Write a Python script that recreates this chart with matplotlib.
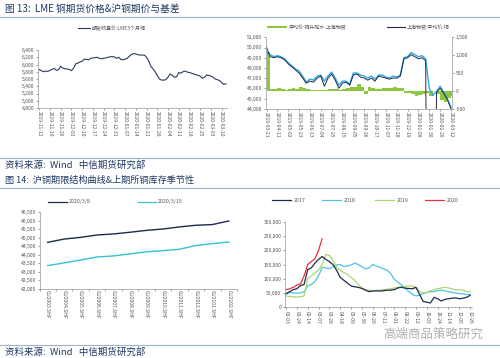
import numpy as np
import pandas as pd
import matplotlib
matplotlib.use("Agg")
import matplotlib.pyplot as plt
from matplotlib.ticker import FuncFormatter
from matplotlib.lines import Line2D

plt.rcParams['font.family'] = ['Noto Sans CJK SC', 'DejaVu Sans']
plt.rcParams['axes.unicode_minus'] = False

# ---------------- data ----------------
# Fig 13 left: LME 3M copper (USD/t), business days from 2019-11-12
lme_start = '2019-11-12'
lme_values = [5860, 5830, 5800, 5820, 5810,
              5840, 5870, 5890, 5840, 5860,
              5950, 5900, 5880, 5880, 5860,
              5830, 5900, 6020, 6040, 6070,
              6090, 6150, 6140, 6130, 6170,
              6180, 6190, 6200, 6170, 6160,
              6170, 6180, 6200, 6210, 6220,
              6210, 6170, 6200, 6140, 6130,
              6150, 6170, 6230, 6280, 6300,
              6290, 6270, 6260, 6260, 6260,
              6200, 6100, 5950, 5880, 5800,
              5700, 5600, 5570, 5570, 5580,
              5650, 5740, 5700, 5650, 5660,
              5780, 5760, 5800, 5820, 5790,
              5780, 5760, 5740, 5720, 5700,
              5680, 5620, 5650, 5710, 5700,
              5680, 5650, 5600, 5580, 5560,
              5500, 5450, 5470]

# Fig 13 right: weekly from 2019-03-21
sh_start = '2019-03-21'
sh_spot = [50000, 49100, 49000, 49100, 49000, 48800, 48400, 48100, 47800, 47500,
           47000, 46500, 46700, 46600, 47000, 47200, 46200, 47000, 47400, 46800,
           46000, 46500, 46600, 46300, 47300, 47400, 47100, 47000, 46800, 47000,
           46700, 47200, 47100, 47000, 46900, 47000, 47000, 47200, 48900, 49000,
           49300, 49100, 48900, 49000, 48700, 0, 0, 45600, 46000, 45500,
           44900, 44000]
sh_futures = [49500, 49300, 49100, 49200, 49100, 48900, 48500, 48200, 47900, 47700,
              47200, 46600, 46900, 46800, 47200, 47300, 46700, 47200, 47600, 47000,
              46300, 46700, 46700, 46400, 47500, 47500, 47300, 47200, 47000, 47200,
              46900, 47300, 47300, 47100, 47000, 47200, 47100, 47300, 49000, 49100,
              49500, 49300, 49100, 49200, 48900, 46000, 45300, 45700, 46200, 45600,
              45000, 44100]
sh_basis = [1100, 60, 50, 80, 60, 30, 40, 80, 60, 100,
            70, 60, 30, 20, 20, 30, 20, 40, 50, 40,
            30, 60, 80, 100, 120, 200, 120, -80, 100, 90,
            60, 40, 70, 80, 90, 100, 80, 70, -50, -60,
            -100, -150, -120, -80, -50, -150, 0, -100, -250, -300,
            -200, -150]

# Fig 14 left: term structure
contracts = ['CU2003.SHF', 'CU2004.SHF', 'CU2005.SHF', 'CU2006.SHF', 'CU2007.SHF',
             'CU2008.SHF', 'CU2009.SHF', 'CU2010.SHF', 'CU2011.SHF', 'CU2012.SHF',
             'CU2101.SHF', 'CU2102.SHF']
curve_0308 = [44740, 44930, 45030, 45170, 45230, 45330, 45440, 45520, 45640, 45740, 45780, 45990]
curve_0315 = [43375, 43530, 43700, 43880, 43940, 44060, 44180, 44250, 44330, 44550, 44660, 44760]

# Fig 14 right: SHFE copper inventory, weekly from 01-03
inv_2017 = [48000, 55000, 62000, 65000, 76000, 80000, 132000, 138000, 155000, 168000,
            178000, 168000, 160000, 150000, 130000, 105000, 95000, 85000, 75000, 72000,
            70000, 66000, 60000, 55000, 57000, 58000, 57000, 58000, 60000, 60000,
            62000, 68000, 70000, 67000, 66000, 65000, 70000, 45000, 20000, 18000,
            15000, 35000, 30000, 22000, 28000, 30000, 32000, 33000, 30000, 32000,
            35000, 42000]
inv_2018 = [45000, 52000, 50000, 50000, 50000, 55000, 75000, 80000, 90000, 110000,
            140000, 138000, 135000, 142000, 148000, 150000, 143000, 145000, 148000, 155000,
            150000, 142000, 135000, 138000, 150000, 145000, 140000, 135000, 130000, 118000,
            98000, 88000, 78000, 68000, 55000, 45000, 40000, 42000, 48000, 52000,
            55000, 55000, 58000, 60000, 58000, 55000, 52000, 50000, 48000, 47000,
            45000, 45000]
inv_2019 = [40000, 38000, 37000, 36000, 37000, 40000, 100000, 110000, 120000, 130000,
            150000, 185000, 182000, 165000, 140000, 130000, 122000, 115000, 105000, 95000,
            80000, 68000, 62000, 60000, 58000, 58000, 60000, 62000, 63000, 65000,
            68000, 70000, 72000, 73000, 75000, 74000, 70000, 55000, 50000, 52000,
            58000, 62000, 65000, 68000, 70000, 68000, 65000, 60000, 62000, 60000,
            55000, 55000]
inv_2020 = [62000, 65000, 70000, 78000, 82000, 110000, 150000, 160000, 170000, 200000, 240000]

# ---------------- figure ----------------
W, H = 500, 358
fig = plt.figure(figsize=(W / 100, H / 100), dpi=100)
fig.patch.set_facecolor('white')

def fx(px):
    return px / W

def fy(py):
    return 1 - py / H

def box(l, t, r, b):
    return [fx(l), fy(b), fx(r) - fx(l), fy(t) - fy(b)]

TICK = dict(labelsize=3.6, colors='#555555', length=1.5, width=0.4, pad=1)
SPINE = '#999999'
NAVY = '#1f2b4d'
CYAN = '#33c3d3'
BLUE = '#2fa9df'
GREEN = '#8dc63f'
LGREEN = '#a9d86e'
RED = '#e8303a'
HEAD = '#1f3864'
comma = FuncFormatter(lambda v, p: f'{v:,.0f}')

def style(ax):
    for s in ['top', 'right']:
        ax.spines[s].set_visible(False)
    for s in ['left', 'bottom']:
        ax.spines[s].set_color(SPINE)
        ax.spines[s].set_linewidth(0.5)
    ax.tick_params(**TICK)
    ax.yaxis.set_major_formatter(comma)

def hline(py, x0=0, x1=W, color='#9fb3c8', lw=0.8):
    fig.add_artist(Line2D([fx(x0), fx(x1)], [fy(py), fy(py)], color=color, lw=lw))

# headers and separators
fig.text(fx(5), fy(9), '图 13:  LME 铜期货价格&沪铜期价与基差', fontsize=7, color=HEAD, va='center')
hline(17)
hline(158)
fig.text(fx(5), fy(165), '资料来源:  Wind   中信期货研究部', fontsize=6.8, color=HEAD, va='center')
fig.text(fx(5), fy(180.5), '图 14:  沪铜期限结构曲线&上期所铜库存季节性', fontsize=6.6, color=HEAD, va='center')
hline(188)
hline(345)
fig.text(fx(5), fy(351.5), '资料来源:  Wind   中信期货研究部', fontsize=6.8, color=HEAD, va='center')
fig.text(fx(383), fy(334), '高端商品策略研究', fontsize=9, color='#b0b0b0', va='center')

# ---- Fig 13 left ----
ax1 = fig.add_axes(box(38, 50, 227, 108))
style(ax1)
lme_dates = pd.bdate_range(lme_start, periods=len(lme_values))
x1 = np.arange(len(lme_values))
ax1.plot(x1, lme_values, color='#2b3a5c', lw=0.8)
ax1.set_ylim(4800, 6400)
ax1.set_yticks(np.arange(4800, 6401, 200))
ax1.set_xlim(-0.6, 87.5)
tk = x1[::5]
ax1.set_xticks(tk)
ax1.set_xticklabels([lme_dates[i].strftime('%Y-%m-%d') for i in tk], rotation=270)
fig.add_artist(Line2D([fx(78), fx(90)], [fy(28), fy(28)], color='#2b3a5c', lw=0.8))
fig.text(fx(92), fy(28), '期货收盘价:LME3个月铜', fontsize=3.6, color='#555555', va='center')

# ---- Fig 13 right ----
ax2 = fig.add_axes(box(266, 37.3, 452, 108.7))
style(ax2)
sh_dates = pd.date_range(sh_start, periods=len(sh_spot), freq='7D')
ax2b = ax2.twinx()
for s in ['top', 'left', 'bottom']:
    ax2b.spines[s].set_visible(False)
ax2b.spines['right'].set_color(SPINE)
ax2b.spines['right'].set_linewidth(0.5)
ax2b.tick_params(**TICK)
ax2b.bar(sh_dates, sh_basis, width=7, align='edge', color=GREEN, lw=0)
ax2b.set_ylim(-500, 1500)
ax2b.set_yticks([-500, 0, 500, 1000, 1500])
ax2b.yaxis.set_major_formatter(comma)
ax2.set_zorder(ax2b.get_zorder() + 1)
ax2.patch.set_visible(False)
ax2.plot(sh_dates, sh_futures, color=BLUE, lw=1.0)
ax2.plot(sh_dates, sh_spot, color=NAVY, lw=0.7)
ax2.set_ylim(44000, 51000)
ax2.set_yticks(np.arange(44000, 51001, 1000))
lab_dates = pd.date_range(sh_start, periods=18, freq='21D')
ax2.set_xlim(sh_dates[0] - pd.Timedelta(days=1), sh_dates[-1] + pd.Timedelta(days=2))
ax2.set_xticks(lab_dates)
ax2.set_xticklabels([d.strftime('%Y-%m-%d') for d in lab_dates], rotation=270)
fig.add_artist(plt.Rectangle((fx(267), fy(28)), fx(20), 2.2 / H, color=GREEN, lw=0))
fig.text(fx(289), fy(27), '平均价:铜升贴水:上海物贸', fontsize=3.6, color='#555555', va='center')
fig.add_artist(Line2D([fx(387), fx(405)], [fy(27), fy(27)], color=NAVY, lw=0.8))
fig.text(fx(407), fy(27), '上海物贸:平均价:铜', fontsize=3.6, color='#555555', va='center')

# ---- Fig 14 left ----
ax3 = fig.add_axes(box(39.5, 212.3, 237, 289))
style(ax3)
xc = np.arange(len(contracts))
ax3.plot(xc, curve_0308, color=NAVY, lw=1.0)
ax3.plot(xc, curve_0315, color=CYAN, lw=1.0)
ax3.set_ylim(42000, 46500)
ax3.set_yticks(np.arange(42000, 46501, 500))
ax3.set_xlim(-0.5, 11.3)
ax3.set_xticks(xc)
ax3.set_xticklabels(contracts, rotation=270)
ax3.set_xticks(np.arange(-0.5, 11.6, 1), minor=True)
ax3.tick_params(axis='x', which='major', length=0)
ax3.tick_params(axis='x', which='minor', length=1.5, width=0.4, color='#555555')
fig.add_artist(Line2D([fx(48), fx(67)], [fy(201.7), fy(201.7)], color=NAVY, lw=0.9))
fig.text(fx(69), fy(201.7), '2020/3/8', fontsize=3.8, color='#555555', va='center')
fig.add_artist(Line2D([fx(138), fx(156)], [fy(201.7), fy(201.7)], color=CYAN, lw=0.9))
fig.text(fx(158), fy(201.7), '2020/3/15', fontsize=3.8, color='#555555', va='center')

# ---- Fig 14 right ----
ax4 = fig.add_axes(box(285, 221.7, 471.7, 307.3))
style(ax4)
days = np.arange(52) * 7
ax4.plot(days, inv_2018, color='#4cc3e0', lw=0.9)
ax4.plot(days, inv_2019, color=LGREEN, lw=0.9)
ax4.plot(days, inv_2017, color=NAVY, lw=0.9)
ax4.plot(days[:len(inv_2020)], inv_2020, color=RED, lw=0.9)
ax4.set_ylim(0, 300000)
ax4.set_yticks(np.arange(0, 300001, 50000))
ax4.set_xlim(-2, 360)
tick_days = np.arange(18) * 21
ref = pd.Timestamp('2019-01-03')
ax4.set_xticks(tick_days)
ax4.set_xticklabels([(ref + pd.Timedelta(days=int(d))).strftime('%m-%d') for d in tick_days], rotation=270)
for px, col, lab in [(272, NAVY, '2017'), (322, '#4cc3e0', '2018'), (375, LGREEN, '2019'), (425, RED, '2020')]:
    fig.add_artist(Line2D([fx(px), fx(px + 19)], [fy(200), fy(200)], color=col, lw=0.9))
    fig.text(fx(px + 22), fy(200), lab, fontsize=3.8, color='#555555', va='center')

fig.savefig('out.png', dpi=100)
